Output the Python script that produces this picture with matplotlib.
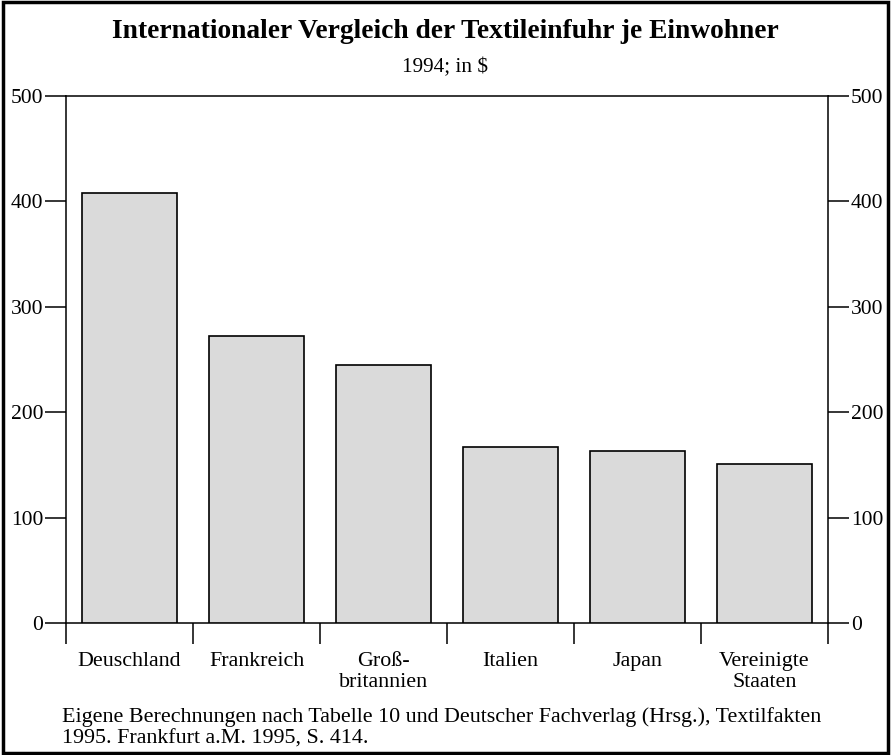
import matplotlib
matplotlib.use("Agg")
import matplotlib.pyplot as plt
import matplotlib.patches as patches
import numpy as np

# data
countries = ["Deuschland", "Frankreich", "Groß-\nbritannien", "Italien", "Japan", "Vereinigte\nStaaten"]
imports_per_capita = [408, 272, 245, 167, 163, 151]
yticks = [0, 100, 200, 300, 400, 500]

plt.rcParams['font.family'] = ['Liberation Serif', 'DejaVu Serif']

fig = plt.figure(figsize=(8.91, 7.55), dpi=100)
fig.patch.set_facecolor('white')
ax = fig.add_axes([66 / 891, 1 - 623 / 755, (828 - 66) / 891, (623 - 96) / 755])

x = np.arange(len(countries))
ax.bar(x, imports_per_capita, width=0.75, color='#dadada', edgecolor='black', linewidth=1.2, zorder=3)

ax.set_xlim(-0.5, len(countries) - 0.5)
ax.set_ylim(0, 500)

for side in ['left', 'right', 'top', 'bottom']:
    ax.spines[side].set_linewidth(1.1)

# y ticks on both sides, outward
ax.set_yticks(yticks)
ax.tick_params(axis='y', which='both', direction='out', length=15, width=1.1,
               labelsize=15.5, left=True, right=True, labelleft=True, labelright=True, pad=1.5)

# category labels centred, boundary ticks as minor ticks
ax.set_xticks(x)
ax.set_xticklabels(countries, fontsize=15.8, linespacing=1.15)
ax.set_xticks(np.arange(-0.5, len(countries)), minor=True)
ax.tick_params(axis='x', which='major', length=0, pad=21)
ax.tick_params(axis='x', which='minor', direction='out', length=15, width=1.1)

fig.text(0.5, 1 - 32 / 755, "Internationaler Vergleich der Textileinfuhr je Einwohner",
         ha='center', va='center', fontsize=19.8, fontweight='bold')
fig.text(0.5, 1 - 68 / 755, "1994; in $", ha='center', va='center', fontsize=15.3)

fig.text(62 / 891, 1 - 717 / 755,
         "Eigene Berechnungen nach Tabelle 10 und Deutscher Fachverlag (Hrsg.), Textilfakten",
         ha='left', va='center', fontsize=15.8)
fig.text(62 / 891, 1 - 739 / 755, "1995. Frankfurt a.M. 1995, S. 414.",
         ha='left', va='center', fontsize=15.8)

# outer frame
fig.patches.append(patches.Rectangle((0.003, 0.003), 0.994, 0.994, transform=fig.transFigure,
                                     fill=False, edgecolor='black', linewidth=2.5))

fig.savefig("out.png", dpi=100)
